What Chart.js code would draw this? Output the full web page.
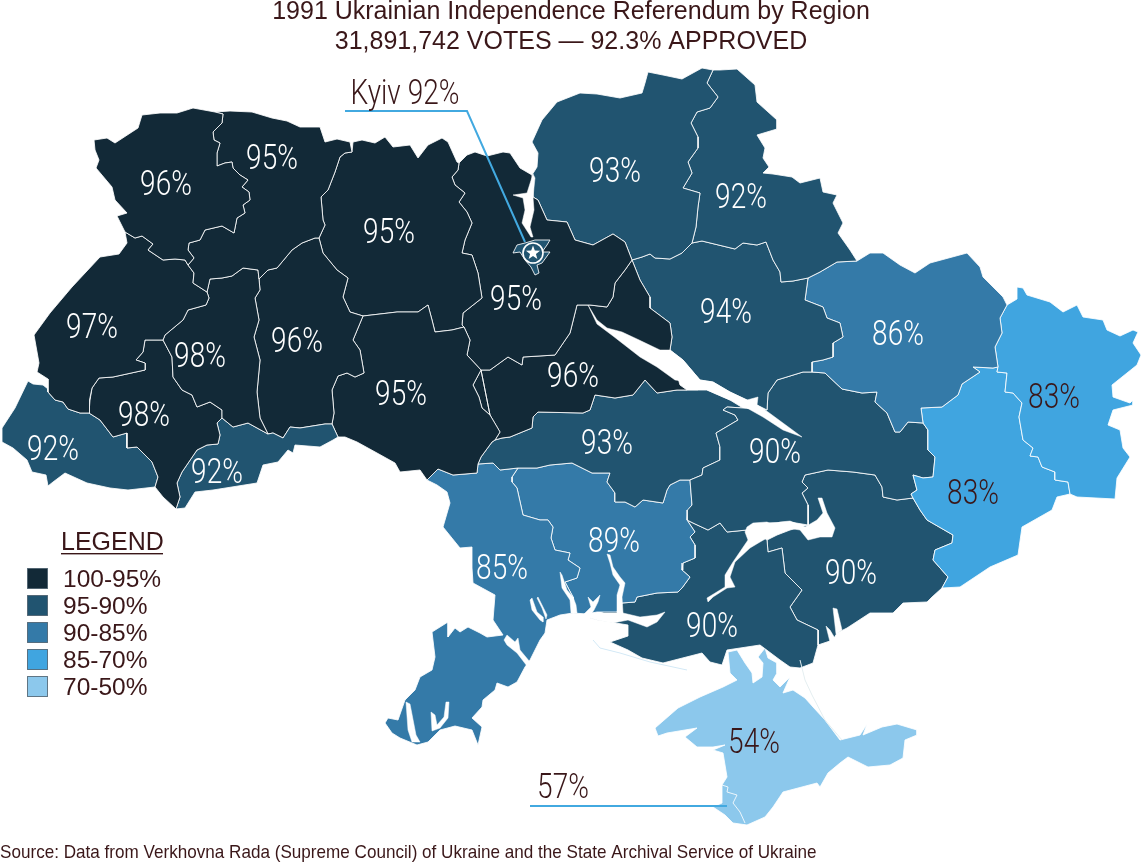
<!DOCTYPE html>
<html><head><meta charset="utf-8">
<style>html,body{margin:0;padding:0;background:#fff}canvas{display:block}</style>
<script src="https://cdn.jsdelivr.net/npm/chart.js@4"></script>
</head><body><canvas id="c" width="1142" height="863"></canvas>
<script>
const titleLines=["1991 Ukrainian Independence Referendum by Region","31,891,742 VOTES — 92.3% APPROVED"];
const sourceText="Source: Data from Verkhovna Rada (Supreme Council) of Ukraine and the State Archival Service of Ukraine";
const legendTitle="LEGEND";
const legendLabels=["100-95%","95-90%","90-85%","85-70%","70-50%"];
const legendColors=["#122937","#215470","#347aa8","#40a5e0","#8cc8ec"];
const ink="#3a1719";
// shared borders (map units)
const volyn_lviv=[125,232,135,238,142,236,153,244,148,250,163,260,175,259,185,260,188,265];
const volyn_rivne=[215,112,223,114,222,123,213,132,214,140,220,143,217,153,217,166,225,163,232,162,233,168,240,175,248,180,242,187,249,192,250,200,243,205,245,213,237,218,234,233,222,226,205,230,200,240,189,243,188,250,194,258,188,265];
const lviv_rivne=[188,265,194,273,193,283,207,292];
const rivne_tern=[207,292,210,279,222,278,232,276,243,268,258,270,259,279];
const rivne_khmel=[259,279,268,270,277,268,292,250,302,243,315,238,319,238];
const rivne_zhyt=[319,238,325,225,323,220,321,197,328,190,335,172,340,157,345,153];
const lviv_tern=[207,292,209,298,206,305,188,310,183,320,165,335,163,340];
const lviv_if=[163,340,145,340,143,352,136,360,145,363,145,370,113,377,99,378,92,388,90,400,89,413];
const tern_if=[163,340,172,357,173,377,182,390,192,395,197,407,210,402,222,410,222,418];
const tern_khmel=[259,279,260,290,255,298,259,320,254,337,260,360,257,392,260,418,268,434];
const tern_chern=[268,434,248,423,233,427,222,418];
const if_chern=[222,418,217,423,220,435,218,444,207,445,197,450,182,472,177,483,180,497,176,509];
const if_zak=[89,413,100,420,113,437,127,433,127,448,137,447,152,462,158,477,155,487];
const khmel_chern=[268,434,273,433,283,438,290,427,300,428,325,424,332,424];
const khmel_zhyt=[319,238,323,253,337,270,348,278,343,297,350,312,363,316];
const khmel_vin=[363,316,353,340,360,350,364,373,355,377,347,373,338,376,332,390,334,413,332,424];
const lviv_zak=[48,389,48,392,55,400,63,402,68,409,80,413,89,413];
const vin_chern=[338,437,332,424];
const vin_odesa=[427,480,438,469,453,475,477,473,478,464];
const vin_kir=[478,464,481,457,492,442,495,440];
const vin_cher=[495,440,500,432,490,415,482,408,479,397,473,385,481,370];
const vin_kyiv=[481,370,467,355,470,340,464,327];
const vin_zhyt=[464,327,452,330,435,332,432,320,428,305,418,312,397,312,363,316];
const zhyt_kyiv=[459,163,458,170,452,177,455,185,465,193,459,202,467,212,472,223,465,240,462,253,472,255,478,273,482,298,463,313,462,325,464,327];
const kyiv_chernihiv=[532,175,533,197,538,200,547,220,567,222,575,240,593,245,613,234,625,242,632,260];
const kyiv_cher=[632,260,625,270,615,283,613,297,607,307,590,305,577,305,570,333,555,355,523,357,522,365,508,357,490,370,481,370];
const chernihiv_sumy=[713,70,707,83,718,97,710,108,697,112,691,123,698,137,698,148,688,162,692,173,683,188,700,193,698,207,696,227,692,243];
const chernihiv_polt=[692,243,682,253,670,259,655,258,650,254,642,257,632,260];
const sumy_khar=[857,261,837,262,820,272,808,278];
const sumy_polt=[808,278,793,281,781,282,780,272,773,260,766,242,757,245,743,243,735,249,702,241,692,243];
const polt_cher=[632,260,640,280,650,297,650,308,670,323,672,337,670,350];
const polt_river=[670,350,683,360,700,380,713,382,730,392,747,400,767,410];
const polt_dnipro=[767,410,768,393,777,380,803,372,812,372];
const polt_khar=[812,372,812,362,823,360,833,357,833,343,843,337,840,323,827,318,823,307,805,300,808,278];
const khar_luh=[1007,305,1000,318,1002,333,995,347,998,367];
const khar_don=[998,367,993,368,973,367,980,372,962,384,958,395,942,407,921,408,923,423];
const khar_dni=[923,423,908,422,900,432,895,432,887,413,875,402,877,392,862,393,842,389,825,373,812,372];
const luh_don=[1070,494,1068,482,1055,480,1055,472,1042,467,1038,457,1030,456,1033,448,1023,440,1019,417,1022,403,1013,393,1005,392,1007,373,997,372,998,367];
const don_dni=[923,423,928,430,928,450,935,457,933,477,923,478,913,475,917,490,911,494,913,498];
const don_zap=[913,498,920,510,927,520,953,535,952,543,935,550,933,560,948,577,942,588];
const dni_zap=[913,498,897,500,883,497,882,487,875,475,853,472,828,470,805,475,802,482,808,488,802,493,808,505,808,525];
const dni_river=[808,525,790,522,767,523,747,530];
const dni_kher=[747,530,727,532,720,523,708,530,693,523,687,520];
const dni_myk=[687,520,688,510,692,505,690,480];
const dni_kir=[690,480,702,475,703,468,720,460,720,447,716,433,738,420,735,415,723,410,727,407,743,408];
const cher_kir=[495,440,502,438,510,437,532,428,533,417,538,412,583,413,590,410,595,395,615,398,633,395,645,380,657,393,677,390,687,390];
const cher_east=[670,350,680,385,687,390];
const kir_river=[687,390,707,390,730,400,743,408];
const kir_myk=[690,480,680,480,670,485,667,490,663,503,643,500,635,507,625,502,615,502,615,493,607,482,610,473,592,473,572,463,550,465,537,468,518,468];
const kir_odesa=[518,468,500,470,493,463,478,464];
const odesa_myk=[518,468,512,477,512,482,517,488,523,515,540,520,548,520,553,527,551,538,555,550,570,553,568,560,580,568,577,578,565,582,573,597,573,613];
const myk_kher=[622,603,635,602,637,597,657,593,678,592,682,588,690,577,682,570,683,563,695,558,695,545,690,537,695,532,687,520];
const kher_zap=[767,540,768,552,782,548,785,573,802,590,790,607,797,620,818,630,818,645];
const sev_line=[722,785,728,787,727,792,737,795,733,803,740,812,745,823];
// outer coasts and frontiers
const c_volyn=[215,112,193,108,177,113,160,113,142,115,138,128,115,143,107,138,94,140,95,150,99,160,96,168,112,187,115,200,127,213,117,216,125,232];
const c_rivne=[215,112,230,111,252,112,272,118,287,121,300,127,320,127,325,142,337,139,350,142,352,152,345,153];
const c_lviv=[125,232,127,243,119,254,100,257,72,287,50,313,34,335,39,363,37,372,48,379,48,389];
const c_zak=[48,389,43,385,33,384,28,381,15,408,2,428,2,442,13,448,27,460,32,472,46,475,48,486,53,482,65,473,87,483,110,488,128,490,155,487];
const c_if=[155,487,163,497,176,509];
const c_chern=[176,509,185,508,195,492,213,490,257,483,263,465,278,462,288,450,293,453,295,445,320,447,333,440,338,437];
const c_vin=[338,437,345,437,357,442,377,453,395,463,400,472,420,470,427,480];
const c_zhyt=[345,153,352,152,353,142,362,140,375,143,385,137,393,147,410,145,418,158,428,145,442,138,448,142,457,162,459,163];
const c_kyiv=[459,163,467,155,475,152,487,156,503,152,510,153,520,168,532,175];
const c_chernihiv=[532,175,537,167,538,153,532,142,542,120,557,102,580,93,597,94,620,98,642,93,645,83,648,72,663,75,682,79,702,68,713,70];
const c_sumy=[713,70,720,70,737,69,755,85,757,102,777,120,777,129,757,135,765,148,763,158,769,167,763,173,773,174,792,177,800,183,820,178,823,192,837,195,833,203,843,223,838,233,850,250,857,261];
const c_khar=[857,261,870,253,883,253,900,265,915,273,930,263,967,253,980,267,983,277,1003,297,1007,305];
const c_luh=[1007,305,1017,299,1017,287,1023,288,1027,295,1050,302,1063,312,1077,305,1083,317,1103,320,1107,330,1120,336,1133,330,1138,332,1133,343,1141,355,1137,365,1112,385,1113,397,1130,403,1133,400,1133,405,1113,410,1108,425,1120,430,1123,448,1130,457,1117,478,1115,499,1077,497,1070,494];
const c_don=[942,588,960,587,975,577,990,567,1018,555,1022,527,1052,510,1057,497,1070,494];
const c_zap=[942,588,932,597,927,602,903,603,893,613,870,613,847,628,837,633,833,640,818,645];
const c_kher=[818,645,813,663,800,668,790,667,780,660,760,645,727,650,722,665,710,662,702,653,663,663,642,658,628,650,610,642,628,636,628,625,597,620,590,618,622,603];
const c_myk=[573,613,587,614,597,612,617,612,622,603];
const c_odesa=[573,613,560,615,547,620,545,633,540,640,530,660,525,667,517,682,508,687,497,683,495,690,483,700,482,707,472,718,482,727,478,745,472,730,455,726,440,730,428,742,417,745,400,738,392,733,385,723,388,718,398,720,405,700,415,690,420,677,432,670,435,657,432,632,448,622,448,637,455,628,460,632,468,627,480,633,487,637,503,635,493,620,495,595,473,583,472,568,472,547,460,548,443,527,450,503,447,492,437,485,427,480];
const crimea=[728,652,737,650,745,663,752,673,753,683,762,677,763,663,758,657,765,648,768,658,777,663,777,673,773,680,780,687,790,677,783,693,793,690,805,698,813,707,825,720,840,740,860,735,867,724,863,735,882,727,897,724,917,730,917,735,905,740,903,758,890,765,868,767,848,757,840,763,828,773,820,787,817,783,783,792,773,807,765,817,747,825,733,823,725,815,713,807,722,803,722,785,727,777,723,753,713,750,725,745,713,747,697,747,685,737,697,728,667,733,658,736,655,728,678,708,700,697,723,687,737,680,730,673];
const kyiv_city=[513,253,517,245,525,243,535,240,550,240,547,245,542,252,550,252,542,263,537,265,539,273,535,275,531,267,525,260,520,252];
// water
const w_kremenchuk=[588,305,597,320,607,328,622,332,637,339,660,350,670,350,683,360,700,380,713,382,730,392,747,400,758,397,757,405,768,412,802,437,783,430,763,417,747,408,742,400,730,400,707,390,705,382,700,383,698,390,687,390,695,383,675,380,657,367,640,357,613,336,597,324];
const w_kakhovka=[747,527,753,523,767,522,773,525,780,522,790,521,805,527,817,520,823,513,818,498,822,498,827,513,835,528,832,537,820,537,808,540,800,530,787,528,777,530,767,538,760,542,750,548,735,562,730,577,735,587,727,588,713,597,708,602,707,598,725,587,725,575,733,562,748,540,745,532];
const w_kyivres=[533,174,527,193,513,195,523,198,525,210,522,223,531,237,533,237,530,227,534,210,533,197,535,178];
const w_dnipro=[593,613,623,613,640,617,657,615,665,612,657,622,647,627,628,620,613,623,597,620,590,618];
const w_inhul=[607,554,610,555,613,567,620,577,625,583,622,597,623,613,617,613,617,595,620,585,613,575,610,563];
const w_tylihul=[588,597,593,602,600,595,598,602,594,610,590,616,584,614,591,607];
const w_bug=[560,572,562,575,567,590,573,597,576,605,577,613,571,613,570,600,562,588];
const w_lim1=[530,600,532,598,537,612,543,617,543,622,540,620,532,610];
const w_lim2=[537,598,538,597,547,615,546,619,542,608];
const w_dniester=[504,640,507,635,515,642,518,638,520,650,530,662,527,666,517,653,507,645];
const w_crim1=[406,702,410,704,416,735,420,742,412,742,408,730];
const w_crim2=[431,712,435,715,437,725,444,717,446,702,449,702,448,718,440,728,432,731];
const w_mol1=[833,608,837,609,842,630,836,634];
const w_mol2=[826,626,830,630,836,640,830,642];
const spit_tendra=[593,640,600,648,620,653,650,662,687,670];
const spit_arabat=[800,660,805,680,812,695,825,720,842,740];
const leader_kyiv=[345,111,467,111,525,242];
const leader_sev=[530,806,727,806];
const kyiv_marker=[533,253];
// labels: text, x, y, dark?
const labelText=["96%","95%","95%","93%","92%","97%","98%","96%","95%","94%","86%","96%","95%","98%","93%","83%","90%","92%","92%","83%","89%","85%","90%","90%","54%","57%","Kyiv 92%"];
const labelX=[166,272,389,615,741,92,200,297,516,726,898,573,401,144,607,1054,775,53,217,973,614,502,851,712,754,563,405];
const labelY=[184,158,232,171,197,327,356,341,299,312,334,376,394,415,443,397,452,449,472,493,541,568,573,626,742,787,93];
const labelDark=["83%","54%","57%","Kyiv 92%"];

const r=a=>{const o=[];for(let i=a.length-2;i>=0;i-=2)o.push(a[i],a[i+1]);return o;};
const pts=(...p)=>{const f=p.flat(),o=[];for(let i=0;i<f.length;i+=2)o.push({x:f[i],y:f[i+1]});o.push({...o[0]});return o;};
const open=a=>{const o=[];for(let i=0;i<a.length;i+=2)o.push({x:a[i],y:a[i+1]});return o;};
const [c1,c2,c3,c4,c5]=legendColors;
const regions=[
 ["Volyn",c1,pts(c_volyn,volyn_lviv,r(volyn_rivne))],
 ["Rivne",c1,pts(c_rivne,r(rivne_zhyt),r(rivne_khmel),r(rivne_tern),r(lviv_rivne),r(volyn_rivne))],
 ["Lviv",c1,pts(c_lviv,lviv_zak,r(lviv_if),r(lviv_tern),r(lviv_rivne),r(volyn_lviv))],
 ["Ternopil",c1,pts(rivne_tern,tern_khmel,tern_chern,r(tern_if),r(lviv_tern))],
 ["Ivano-Frankivsk",c1,pts(lviv_if,if_zak,c_if,r(if_chern),r(tern_if))],
 ["Zakarpattia",c2,pts(lviv_zak,if_zak,r(c_zak))],
 ["Chernivtsi",c2,pts(if_chern,c_chern,vin_chern,r(khmel_chern),tern_chern)],
 ["Khmelnytskyi",c1,pts(rivne_khmel,khmel_zhyt,khmel_vin,r(khmel_chern),r(tern_khmel))],
 ["Vinnytsia",c1,pts(r(khmel_vin),r(vin_zhyt),r(vin_kyiv),r(vin_cher),r(vin_kir),r(vin_odesa),r(c_vin),vin_chern)],
 ["Zhytomyr",c1,pts(c_zhyt,zhyt_kyiv,vin_zhyt,r(khmel_zhyt),rivne_zhyt)],
 ["Kyiv Oblast",c1,pts(c_kyiv,kyiv_chernihiv,kyiv_cher,vin_kyiv,r(zhyt_kyiv))],
 ["Cherkasy",c1,pts(polt_cher,cher_east,r(cher_kir),r(vin_cher),r(kyiv_cher))],
 ["Chernihiv",c2,pts(c_chernihiv,chernihiv_sumy,chernihiv_polt,r(kyiv_chernihiv))],
 ["Sumy",c2,pts(c_sumy,sumy_khar,sumy_polt,r(chernihiv_sumy))],
 ["Poltava",c2,pts(r(chernihiv_polt),r(sumy_polt),r(polt_khar),r(polt_dnipro),r(polt_river),r(polt_cher))],
 ["Kharkiv",c3,pts(r(sumy_khar),c_khar,khar_luh,khar_don,khar_dni,polt_khar)],
 ["Luhansk",c4,pts(c_luh,luh_don,r(khar_luh))],
 ["Donetsk",c4,pts(r(luh_don),r(c_don),r(don_zap),r(don_dni),r(khar_don))],
 ["Dnipropetrovsk",c2,pts(polt_dnipro,r(khar_dni),don_dni,dni_zap,dni_river,dni_kher,dni_myk,dni_kir)],
 ["Kirovohrad",c2,pts(r(dni_kir),kir_myk,kir_odesa,vin_kir,cher_kir,kir_river)],
 ["Odesa",c3,pts(vin_odesa,r(kir_odesa),odesa_myk,c_odesa)],
 ["Mykolaiv",c3,pts(r(kir_myk),r(dni_myk),r(myk_kher),r(c_myk),r(odesa_myk))],
 ["Kherson",c2,pts(myk_kher,r(dni_kher),[760,535],kher_zap,c_kher)],
 ["Zaporizhzhia",c2,pts(dni_zap,[790,530,777,535],kher_zap,r(c_zap),r(don_zap))],
 ["Crimea",c5,pts(crimea)]
];
const waters=[w_kremenchuk,w_kakhovka,w_kyivres,w_dnipro,w_inhul,w_tylihul,w_bug,w_lim1,w_lim2,w_dniester,w_crim1,w_crim2,w_mol1,w_mol2];
const base={showLine:true,pointRadius:0,pointHoverRadius:0,tension:0};
const datasets=[];
regions.forEach(([n,col,d])=>datasets.push({...base,label:n,data:d,fill:'shape',backgroundColor:col,borderColor:'rgba(255,255,255,.92)',borderWidth:0.9,borderJoinStyle:'round',order:6}));
waters.forEach((w,i)=>datasets.push({...base,label:'water'+i,data:pts(w),fill:'shape',backgroundColor:'#fff',borderColor:'#fff',borderWidth:0.5,order:5}));
datasets.push({...base,label:'Sevastopol border',data:open(sev_line),fill:false,borderColor:'rgba(255,255,255,.92)',borderWidth:0.9,order:4});
datasets.push({...base,label:'Tendra',data:open(spit_tendra),fill:false,borderColor:'#d3e9f6',borderWidth:1,order:4});
datasets.push({...base,label:'Arabat',data:open(spit_arabat),fill:false,borderColor:'#e4eef0',borderWidth:1,order:4});
datasets.push({...base,label:'Kyiv City',data:pts(kyiv_city),fill:'shape',backgroundColor:c2,borderColor:'rgba(255,255,255,.95)',borderWidth:0.9,order:3});
datasets.push({...base,label:'leader Kyiv',data:open(leader_kyiv),fill:false,borderColor:'#42a9e0',borderWidth:2,order:2});
datasets.push({...base,label:'leader Sevastopol',data:open(leader_sev),fill:false,borderColor:'#42a9e0',borderWidth:2,order:2});
datasets.push({label:'Kyiv marker',data:open(kyiv_marker),showLine:false,pointRadius:10,pointHoverRadius:10,pointBackgroundColor:c2,pointBorderColor:'#fff',pointBorderWidth:1.6,order:1});

const textPlugin={id:'mapText',afterDatasetsDraw(ch){
 const g=ch.ctx,X=ch.scales.x,Y=ch.scales.y;
 g.save();
 const sx=X.getPixelForValue(kyiv_marker[0]),sy=Y.getPixelForValue(kyiv_marker[1]);
 g.fillStyle='#fff';g.beginPath();
 for(let i=0;i<10;i++){const a=-Math.PI/2+i*Math.PI/5,rr=i%2?3.1:7.4;g[i?'lineTo':'moveTo'](sx+rr*Math.cos(a),sy+rr*Math.sin(a));}
 g.closePath();g.fill();
 g.textAlign='center';g.textBaseline='middle';
 g.font='300 35px Roboto';
 labelText.forEach((t,i)=>{g.save();g.translate(X.getPixelForValue(labelX[i]),Y.getPixelForValue(labelY[i])+2);g.scale(.8,1);
  g.fillStyle=labelDark.includes(t)?ink:'#fff';g.fillText(t,0,0);g.restore();});
 g.textAlign='left';g.fillStyle=ink;g.font='25px "Liberation Sans"';
 g.fillText(legendTitle,61,543);
 g.fillRect(61,553,102,1.4);
 g.font='24.5px "Liberation Sans"';
 legendLabels.forEach((t,i)=>{const y=568+i*27;
  g.fillStyle=legendColors[i];g.strokeStyle='rgba(70,90,105,.8)';g.lineWidth=1;
  g.fillRect(27.5,y+.5,20,20);g.strokeRect(27.5,y+.5,20,20);
  g.fillStyle=ink;g.fillText(t,63,y+12);});
 g.save();g.translate(0,853);g.scale(.93,1);
 g.font='18.4px "Liberation Sans"';g.fillStyle=ink;
 g.fillText(sourceText,0,0);g.restore();
 g.restore();
}};
new Chart(document.getElementById('c'),{type:'scatter',data:{datasets},plugins:[textPlugin],options:{
 responsive:false,animation:false,events:[],layout:{padding:0,autoPadding:false},
 plugins:{legend:{display:false},tooltip:{enabled:false},
  title:{display:true,text:titleLines,color:ink,font:{family:'"Liberation Sans"',size:25,weight:'normal',lineHeight:1.2},padding:{top:-3,bottom:0}}},
 scales:{x:{type:'linear',display:false,min:0,max:1142},y:{type:'linear',display:false,reverse:true,min:57,max:863}}
}});
</script></body></html>
